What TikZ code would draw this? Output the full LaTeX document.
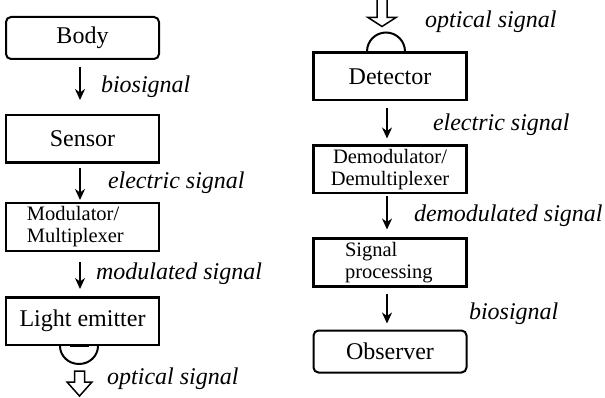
\documentclass[tikz,border=0pt]{standalone}
\usepackage{fontspec}
\setmainfont{Liberation Serif}
\usetikzlibrary{positioning,calc}
\usetikzlibrary{arrows.meta}
\tikzset {
    block/.style = {draw=black, line width=2.5pt, minimum width=153pt, minimum height=47.5pt, inner sep=0pt, font=\fontsize{24}{26}\selectfont},
    ends/.style = {block, rounded corners=5pt, line width=2pt, minimum height=42pt},
    small/.style = {font=\fontsize{20.5}{22}\selectfont},
    sig/.style = {line width=2pt, -{Stealth[length=11pt,width=10pt]}, shorten <=5pt, shorten >=6pt},
    lbl/.style = {font=\fontsize{24}{26}\selectfont\itshape, inner sep=0pt},
    beam/.style = {draw=black, line width=1.5pt, line join=miter},
    lens/.style = {line width=2pt}
    %bigbox/.style={minimum height=50pt}
}

\begin{document}
\begin{tikzpicture}
	\useasboundingbox (0,0) rectangle (605pt,-398pt);
	% transmitter side
	\node (body) [ends] at (82.5pt,-38pt) {Body};
	\node (sensor) [block, below=54pt of body] {Sensor};
	\node (mod) [block, small, below=38pt of sensor, text width=111pt, align=left] {Modulator/\\Multiplexer};
	\node (emitter) [block, below=44pt of mod] {Light emitter};
	\draw[sig, shorten <=7pt, shorten >=14pt] ([xshift=-2.5pt]body.south) -- ([xshift=-2.5pt]sensor.north) node[lbl, midway, right=20pt] {biosignal};
	\draw[sig, shorten <=4pt, shorten >=2pt] ([xshift=-2.5pt]sensor.south) -- ([xshift=-2.5pt]mod.north) node[lbl, midway, right=27pt] {electric signal};
	\draw[sig, shorten <=10pt, shorten >=7pt] ([xshift=-2.5pt]mod.south) -- ([xshift=-2.5pt]emitter.north) node[lbl, midway, right=15pt] {modulated signal};
	\draw[lens] ($(emitter.south)+(-22.5pt,0)$) arc[start angle=180, end angle=360, x radius=19pt, y radius=18pt];
	\draw[line width=2.6pt] ($(emitter.south)+(-13pt,0.8pt)$) -- ++(19pt,0);
	% outgoing light
	\coordinate (otail) at ($(emitter.south)+(-3pt,-25pt)$);
	\draw[beam] (otail) ++(-5pt,0) -- ++(0,-11pt) -- ++(-7.5pt,0) -- ++(12.5pt,-14pt) -- ++(12.5pt,14pt) -- ++(-7.5pt,0) -- ++(0,11pt) -- cycle;
	\node (optout) [lbl, anchor=west] at ($(emitter.south)+(24.5pt,-33pt)$) {optical signal};
	% receiver side
	\node (detector) [block] at (390pt,-76.5pt) {Detector};
	\node (demod) [block, small, below=43pt of detector, align=center] {Demodulator/\\Demultiplexer};
	\node (proc) [block, small, below=43pt of demod, text width=90pt, align=left] {Signal\\processing};
	\node (observer) [ends, below=42pt of proc] {Observer};
	\draw[lens] ($(detector.north)+(-23pt,0)$) arc[start angle=180, end angle=0, x radius=19pt, y radius=19pt];
	\draw[line width=2.6pt] ($(detector.north)+(-14pt,-0.8pt)$) -- ++(20pt,0);
	% incoming light
	\coordinate (itail) at ($(detector.north)+(-8pt,52pt)$);
	\draw[beam] (itail) ++(-5pt,0) -- ++(0,-18pt) -- ++(-9pt,0) -- ++(14pt,-9pt) -- ++(14pt,9pt) -- ++(-9pt,0) -- ++(0,18pt);
	\node (optin) [lbl, anchor=west] at ($(detector.north)+(35pt,30pt)$) {optical signal};
	\draw[sig, shorten <=7pt, shorten >=6pt] ([xshift=-3pt]detector.south) -- ([xshift=-3pt]demod.north) node[lbl, midway, right=45pt, yshift=-2pt] {electric signal};
	\draw[sig, shorten <=2pt, shorten >=8pt] ([xshift=-3pt]demod.south) -- ([xshift=-3pt]proc.north) node[lbl, midway, right=26pt] {demodulated signal};
	\draw[sig, shorten <=6pt, shorten >=6pt] ([xshift=-3pt]proc.south) -- ([xshift=-3pt]observer.north) node[lbl, midway, right=81pt, yshift=-5pt] {biosignal};
\end{tikzpicture}
\end{document}
